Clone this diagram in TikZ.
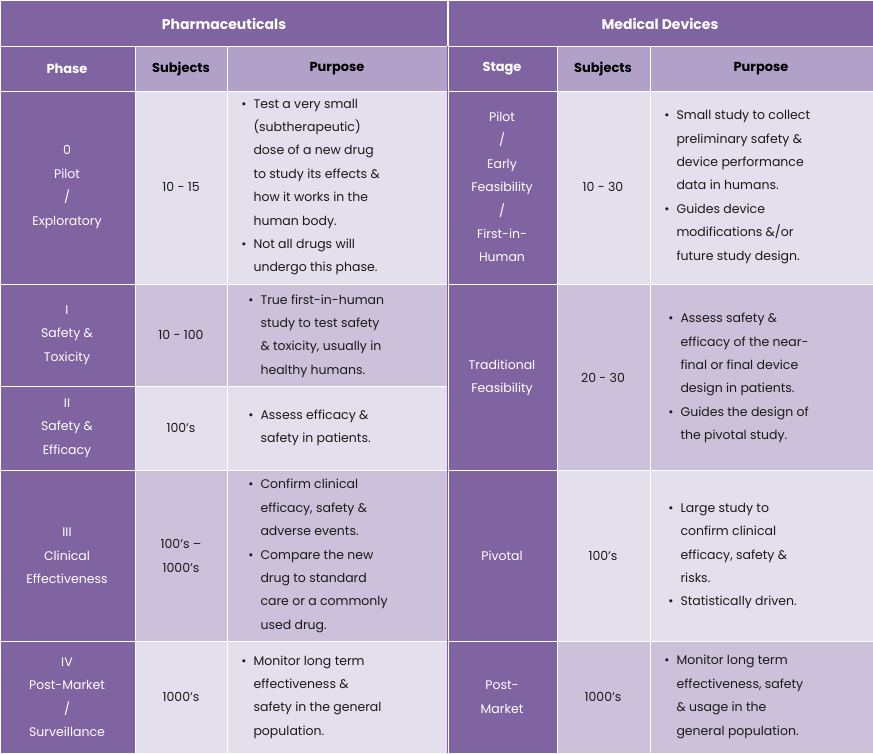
\documentclass[tikz,border=0pt]{standalone}
\usepackage{fontspec}
\setmainfont{Poppins}
\definecolor{dk}{HTML}{8064A2}
\definecolor{hd}{HTML}{B1A0C7}
\definecolor{lt}{HTML}{E4DFEC}
\definecolor{md}{HTML}{CCC0DA}
\definecolor{tx}{HTML}{1A1A1A}
\newcommand{\bl}{\llap{\textbullet\hspace{7pt}}}
\begin{document}
\begin{tikzpicture}[x=1pt,y=-1pt,
  cell/.style={draw=white,line width=1pt},
  ttl/.style={font=\fontsize{14}{16}\selectfont\bfseries,text=white},
  hdr/.style={font=\fontsize{13}{16}\selectfont\bfseries},
  ctr/.style={font=\fontsize{12.5}{23.4}\selectfont,align=center},
  pur/.style={font=\fontsize{12.5}{23.4}\selectfont,align=left,anchor=west,text=tx}]
\useasboundingbox (0,0) rectangle (873,753);
\fill[white] (0,0) rectangle (873,753);
% title row
\fill[cell,fill=dk] (0,0) rectangle (447,46);
\fill[cell,fill=dk] (448,0) rectangle (873,46);
\node[ttl] (tp) at (224,24) {Pharmaceuticals};
\node[ttl] (tm) at (660,24) {Medical Devices};
% header row
\filldraw[cell,fill=dk] (0,46) rectangle (135,91);
\filldraw[cell,fill=hd] (135,46) rectangle (227,91);
\filldraw[cell,fill=hd] (227,46) rectangle (447,91);
\filldraw[cell,fill=dk] (448,46) rectangle (557,91);
\filldraw[cell,fill=hd] (557,46) rectangle (650,91);
\filldraw[cell,fill=hd] (650,46) rectangle (873,91);
\node[hdr,text=white] (h1) at (67,69) {Phase};
\node[hdr] (h2) at (181,69) {Subjects};
\node[hdr] (h3) at (337,69) {Purpose};
\node[hdr,text=white] (h4) at (502,69) {Stage};
\node[hdr] (h5) at (603,69) {Subjects};
\node[hdr] (h6) at (761,69) {Purpose};
% pharma rows
\filldraw[cell,fill=dk] (0,91) rectangle (135,284);
\filldraw[cell,fill=lt] (135,91) rectangle (227,284);
\filldraw[cell,fill=lt] (227,91) rectangle (447,284);
\filldraw[cell,fill=dk] (0,284) rectangle (135,386);
\filldraw[cell,fill=md] (135,284) rectangle (227,386);
\filldraw[cell,fill=md] (227,284) rectangle (447,386);
\filldraw[cell,fill=dk] (0,386) rectangle (135,470);
\filldraw[cell,fill=lt] (135,386) rectangle (227,470);
\filldraw[cell,fill=lt] (227,386) rectangle (447,470);
\filldraw[cell,fill=dk] (0,470) rectangle (135,641);
\filldraw[cell,fill=md] (135,470) rectangle (227,641);
\filldraw[cell,fill=md] (227,470) rectangle (447,641);
\filldraw[cell,fill=dk] (0,641) rectangle (135,753);
\filldraw[cell,fill=lt] (135,641) rectangle (227,753);
\filldraw[cell,fill=lt] (227,641) rectangle (447,753);
% separator
\fill[dk] (447,46) rectangle (448,753);
% medical rows
\filldraw[cell,fill=dk] (448,91) rectangle (557,284);
\filldraw[cell,fill=lt] (557,91) rectangle (650,284);
\filldraw[cell,fill=lt] (650,91) rectangle (873,284);
\filldraw[cell,fill=dk] (448,284) rectangle (557,470);
\filldraw[cell,fill=md] (557,284) rectangle (650,470);
\filldraw[cell,fill=md] (650,284) rectangle (873,470);
\filldraw[cell,fill=dk] (448,470) rectangle (557,641);
\filldraw[cell,fill=lt] (557,470) rectangle (650,641);
\filldraw[cell,fill=lt] (650,470) rectangle (873,641);
\filldraw[cell,fill=dk] (448,641) rectangle (557,753);
\filldraw[cell,fill=md] (557,641) rectangle (650,753);
\filldraw[cell,fill=md] (650,641) rectangle (873,753);
% pharma text
\node[ctr,text=white] (p0) at (67,187) {0\\Pilot\\/\\Exploratory};
\node[ctr,text=white] (p1) at (67,335) {I\\Safety \&\\Toxicity};
\node[ctr,text=white] (p2) at (67,428) {II\\Safety \&\\Efficacy};
\node[ctr,text=white] (p3) at (67,556) {III\\Clinical\\Effectiveness};
\node[ctr,text=white] (p4) at (67,697) {IV\\Post-Market\\/\\Surveillance};
\node[ctr,text=tx] (s0) at (181,187) {10 - 15};
\node[ctr,text=tx] (s1) at (181,335) {10 - 100};
\node[ctr,text=tx] (s2) at (181,428) {100’s};
\node[ctr,text=tx] (s3) at (181,556) {100’s –\\1000’s};
\node[ctr,text=tx] (s4) at (181,697) {1000’s};
\node[pur] (u0) at (250,187) {\bl Test a very small\\(subtherapeutic)\\dose of a new drug\\to study its effects \&\\how it works in the\\human body.\\\bl Not all drugs will\\undergo this phase.};
\node[pur] (u1) at (257,336) {\bl True first-in-human\\study to test safety\\\& toxicity, usually in\\healthy humans.};
\node[pur] (u2) at (257,428) {\bl Assess efficacy \&\\safety in patients.};
\node[pur] (u3) at (257,556) {\bl Confirm clinical\\efficacy, safety \&\\adverse events.\\\bl Compare the new\\drug to standard\\care or a commonly\\used drug.};
\node[pur] (u4) at (250,697) {\bl Monitor long term\\effectiveness \&\\safety in the general\\population.};
% medical text
\node[ctr,text=white] (m0) at (502,187) {Pilot\\/\\Early\\Feasibility\\/\\First-in-\\Human};
\node[ctr,text=white] (m1) at (502,378) {Traditional\\Feasibility};
\node[ctr,text=white] (m2) at (502,556) {Pivotal};
\node[ctr,text=white] (m3) at (502,697) {Post-\\Market};
\node[ctr,text=tx] (n0) at (603,187) {10 - 30};
\node[ctr,text=tx] (n1) at (603,378) {20 - 30};
\node[ctr,text=tx] (n2) at (603,556) {100’s};
\node[ctr,text=tx] (n3) at (603,697) {1000’s};
\node[pur] (v0) at (673,187) {\bl Small study to collect\\preliminary safety \&\\device performance\\data in humans.\\\bl Guides device\\modifications \&/or\\future study design.};
\node[pur] (v1) at (677,378) {\bl Assess safety \&\\efficacy of the near-\\final or final device\\design in patients.\\\bl Guides the design of\\the pivotal study.};
\node[pur] (v2) at (677,556) {\bl Large study to\\confirm clinical\\efficacy, safety \&\\risks.\\\bl Statistically driven.};
\node[pur] (v3) at (673,697) {\bl Monitor long term\\effectiveness, safety\\\& usage in the\\general population.};
\end{tikzpicture}
\end{document}
